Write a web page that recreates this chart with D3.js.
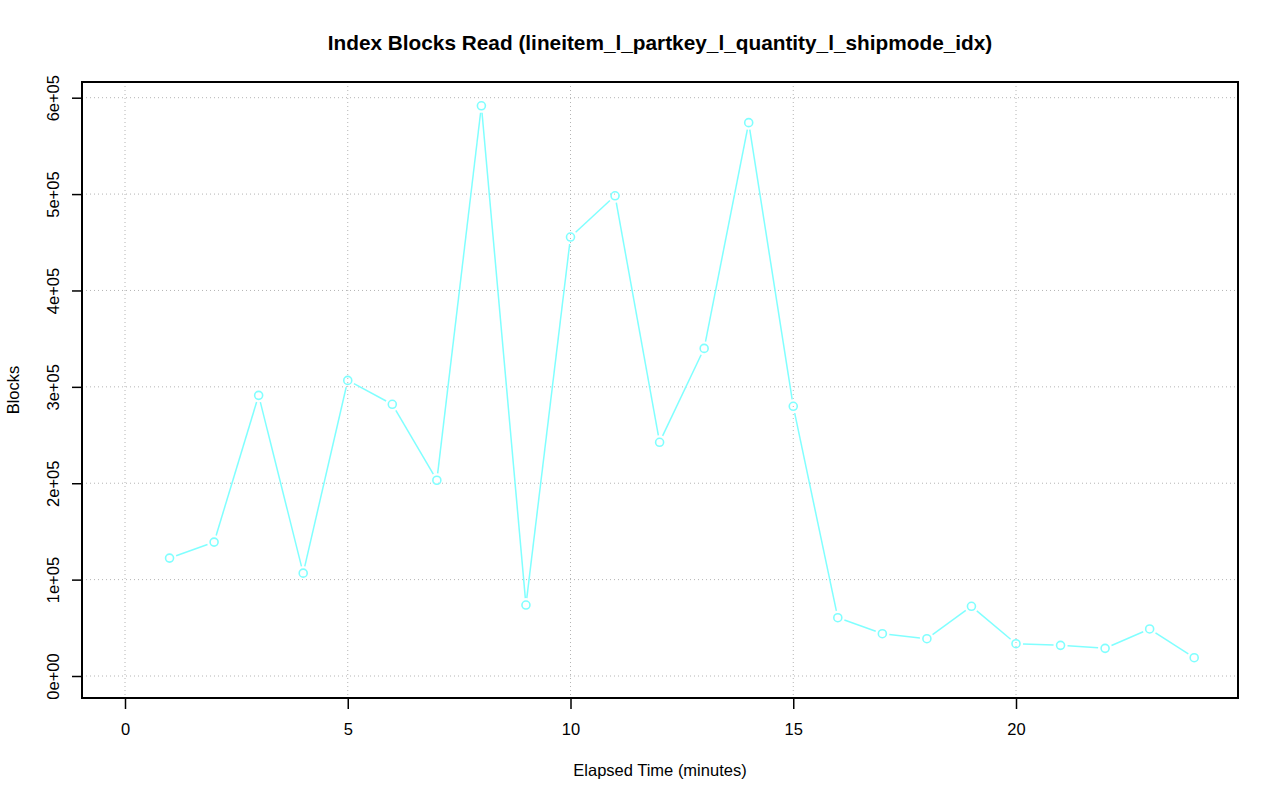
<!doctype html>
<html>
<head>
	<script src="https://d3js.org/d3.v7.min.js"></script>
	<style>
		body { margin: 0; background: white; }
		text { font-family: "Liberation Sans", Arial, Helvetica, sans-serif; }
	</style>
</head>
<body>
	<div id="chart"></div>
	<script>
		// data
		var minutes = [1, 2, 3, 4, 5, 6, 7, 8, 9, 10, 11, 12, 13, 14, 15, 16, 17, 18, 19, 20, 21, 22, 23, 24];
		var blocks = [122300, 138900, 291200, 106700, 306700, 281900, 203100, 591600, 73600, 455400, 498200, 242500,
			339900, 574100, 279800, 60500, 43900, 38700, 72300, 33500, 31800, 28700, 48800, 19000];
		var xTicks = [0, 5, 10, 15, 20];
		var yTicks = [0, 100000, 200000, 300000, 400000, 500000, 600000];

		var width = 1280, height = 801;
		var box = {left: 82, right: 1238, top: 82, bottom: 698};

		var svg = d3.select("#chart")
		  .append("svg")
			.attr("width", width)
			.attr("height", height);

		// scales
		var x = d3.scaleLinear().domain([0, 20]).range([125, 1016]);
		var y = d3.scaleLinear().domain([0, 600000]).range([676, 97.7]);

		// grid
		var grid = svg.append("g")
			.attr("stroke", "#b4b4b4")
			.attr("stroke-width", 1)
			.attr("stroke-dasharray", "1,3");
		grid.selectAll("line.v").data(xTicks).enter().append("line")
			.attr("x1", function(d) { return x(d); }).attr("x2", function(d) { return x(d); })
			.attr("y1", box.top).attr("y2", box.bottom);
		grid.selectAll("line.h").data(yTicks).enter().append("line")
			.attr("y1", function(d) { return y(d); }).attr("y2", function(d) { return y(d); })
			.attr("x1", box.left).attr("x2", box.right);

		// line with gaps around the points (like R type="b")
		var pts = minutes.map(function(m, i) { return [x(m), y(blocks[i])]; });
		var gap = 7;
		var segs = [];
		for (var i = 0; i < pts.length - 1; i++) {
			var dx = pts[i + 1][0] - pts[i][0], dy = pts[i + 1][1] - pts[i][1];
			var len = Math.sqrt(dx * dx + dy * dy);
			if (len <= 2 * gap) continue;
			var ux = dx / len, uy = dy / len;
			segs.push([pts[i][0] + ux * gap, pts[i][1] + uy * gap, pts[i + 1][0] - ux * gap, pts[i + 1][1] - uy * gap]);
		}
		svg.append("g")
			.attr("stroke", "#80ffff")
			.attr("stroke-width", 1.5)
		  .selectAll("line").data(segs).enter().append("line")
			.attr("x1", function(d) { return d[0]; }).attr("y1", function(d) { return d[1]; })
			.attr("x2", function(d) { return d[2]; }).attr("y2", function(d) { return d[3]; });

		svg.append("g")
		  .selectAll("circle").data(minutes).enter().append("circle")
			.attr("cx", function(d) { return x(d); })
			.attr("cy", function(d, i) { return y(blocks[i]); })
			.attr("r", 4)
			.attr("fill", "none")
			.attr("stroke", "#80ffff")
			.attr("stroke-width", 1.6);

		// frame
		svg.append("rect")
			.attr("x", box.left).attr("y", box.top)
			.attr("width", box.right - box.left).attr("height", box.bottom - box.top)
			.attr("fill", "none").attr("stroke", "black").attr("stroke-width", 2);

		// axes
		var xAxis = svg.append("g")
			.attr("transform", "translate(0," + box.bottom + ")")
			.call(d3.axisBottom(x).tickValues(xTicks).tickSize(11).tickPadding(14).tickFormat(d3.format("d")));
		xAxis.select(".domain").remove();
		xAxis.selectAll("line").attr("stroke-width", 1.5);
		xAxis.selectAll("text").style("font-size", "16.5px").attr("fill", "black");

		var fmt = function(d) {
			return d.toExponential(0).replace("e+", "e+0");
		};
		var yAxis = svg.append("g")
			.attr("transform", "translate(" + box.left + ",0)")
			.call(d3.axisLeft(y).tickValues(yTicks).tickSize(10).tickFormat(fmt));
		yAxis.select(".domain").remove();
		yAxis.selectAll("line").attr("stroke-width", 1.5);
		yAxis.selectAll("text")
			.style("font-size", "16.5px")
			.attr("fill", "black")
			.attr("text-anchor", "middle")
			.attr("x", 0).attr("dy", 0)
			.attr("transform", "translate(-23,0) rotate(-90)");

		// titles
		svg.append("text")
			.attr("x", 660).attr("y", 50)
			.attr("text-anchor", "middle")
			.style("font-size", "20.8px").style("font-weight", "bold")
			.text("Index Blocks Read (lineitem_l_partkey_l_quantity_l_shipmode_idx)");
		svg.append("text")
			.attr("x", 660).attr("y", 776)
			.attr("text-anchor", "middle")
			.style("font-size", "16.5px")
			.text("Elapsed Time (minutes)");
		svg.append("text")
			.attr("transform", "translate(19,390) rotate(-90)")
			.attr("text-anchor", "middle")
			.style("font-size", "16.5px")
			.text("Blocks");
	</script>
</body>
</html>
